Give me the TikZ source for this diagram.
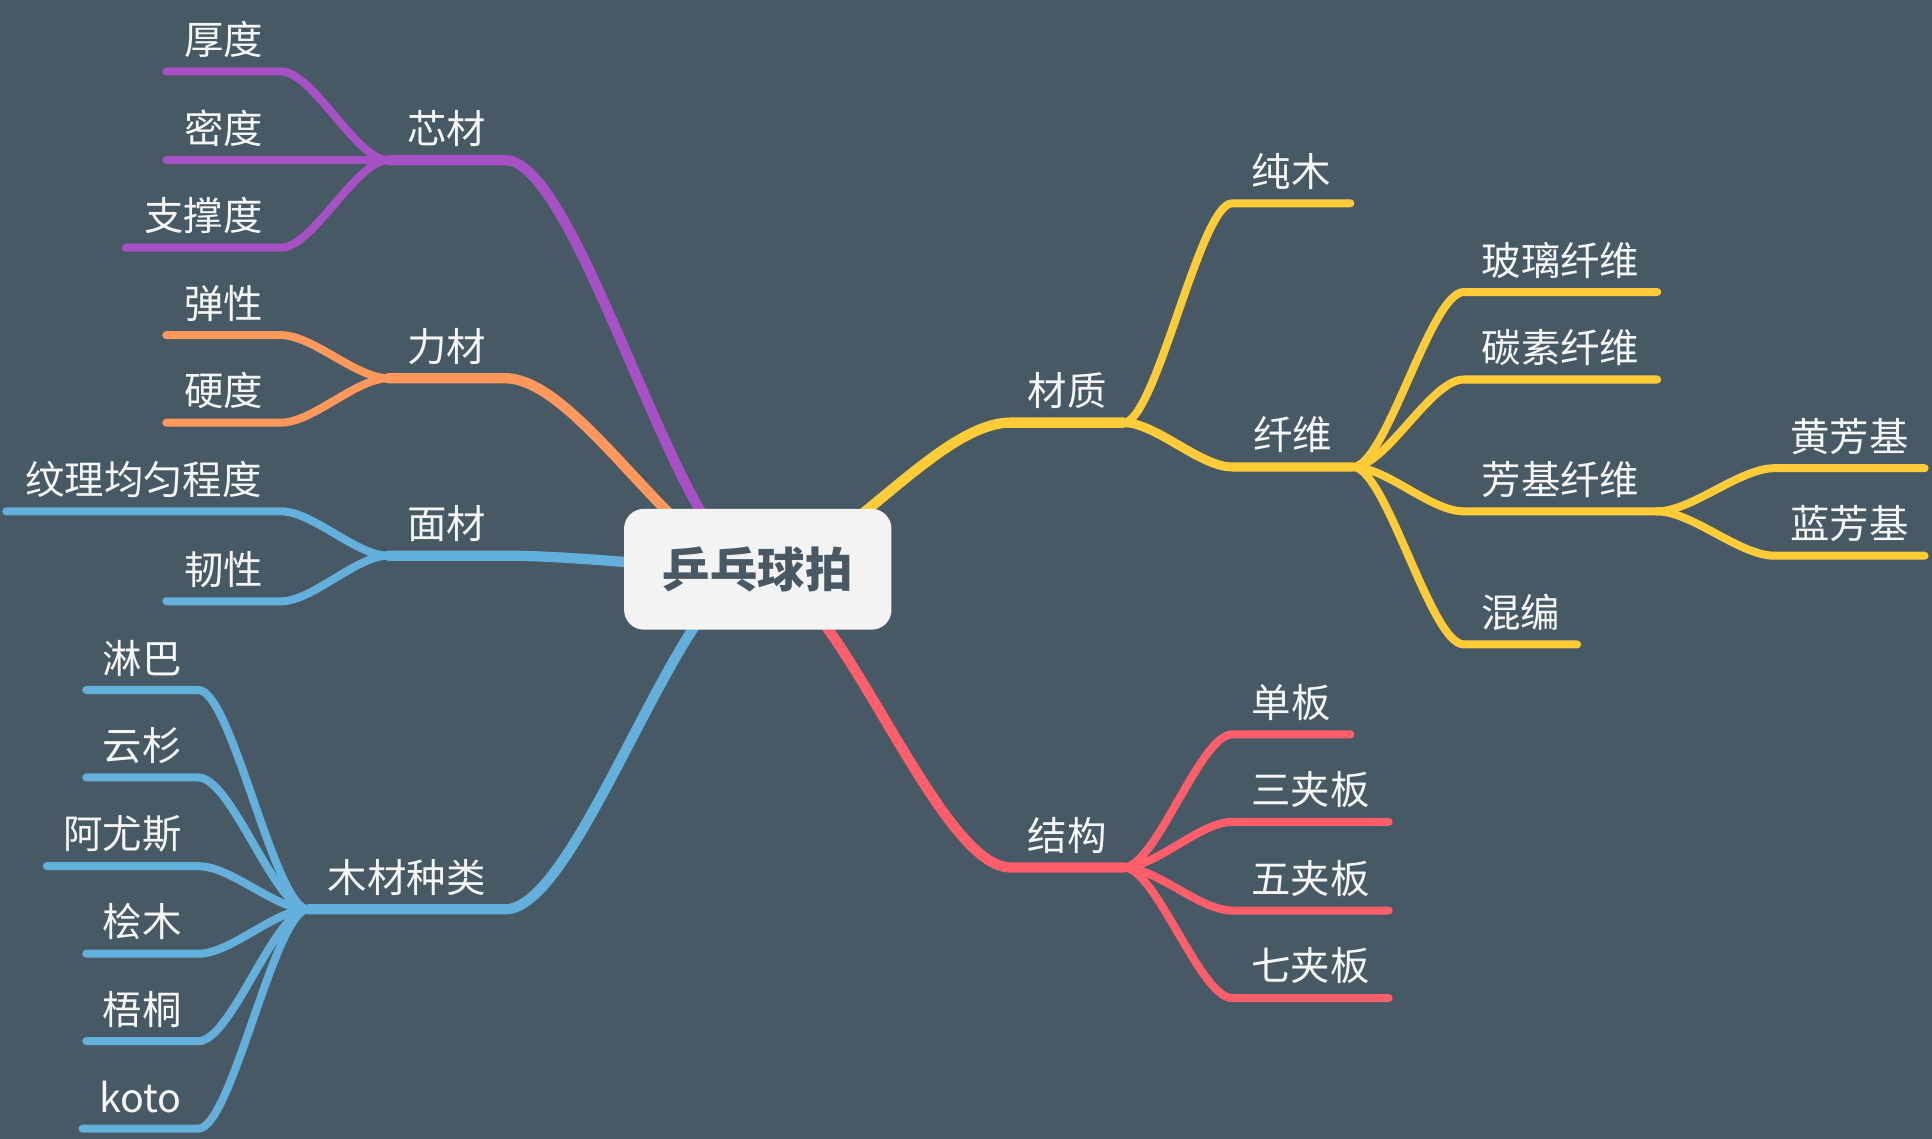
\documentclass[tikz,border=0pt]{standalone}
\usepackage{fontspec}
\setmainfont{Noto Sans CJK SC}
\newfontfamily\cjk{Noto Sans CJK SC}
\definecolor{bgc}{RGB}{71,89,101}
\definecolor{cpur}{RGB}{168,80,198}
\definecolor{cora}{RGB}{255,152,90}
\definecolor{cblu}{RGB}{100,176,220}
\definecolor{cyel}{RGB}{255,204,55}
\definecolor{cred}{RGB}{255,94,106}
\definecolor{ctxt}{RGB}{245,245,245}
\definecolor{croot}{RGB}{243,243,243}
\definecolor{crtxt}{RGB}{72,88,100}
\tikzset{
  lbl/.style={inner sep=0pt, text=ctxt, font=\cjk\fontsize{19.2pt}{22pt}\selectfont},
  mainln/.style={line width=5pt, line cap=round, line join=round},
  midln/.style={line width=4.4pt, line cap=round, line join=round},
  leafln/.style={line width=3.9pt, line cap=round, line join=round},
  rootbox/.style={fill=croot, rounded corners=9.6pt, minimum width=130.2pt, minimum height=58.8pt, inner sep=0pt, text=crtxt, font=\cjk\bfseries\fontsize{23.1pt}{26pt}\selectfont}
}
\begin{document}
\begin{tikzpicture}[x=0.6pt,y=-0.6pt]
\fill[bgc] (0,0) rectangle (1568,924);
\useasboundingbox (0,0) rectangle (1568,924);
\coordinate (rootc) at (615,462);
% ---------- left: coordinates ----------
\coordinate (xincaiJ) at (315,130); \coordinate (xincaiR) at (410,130);
\coordinate (houduL) at (135,58);   \coordinate (houduR) at (228,58);
\coordinate (miduL) at (135,130);   \coordinate (miduR) at (228,130);
\coordinate (zhiL) at (102,201);    \coordinate (zhiR) at (228,201);
\coordinate (licaiJ) at (315,307);  \coordinate (licaiR) at (410,307);
\coordinate (tanL) at (135,272);    \coordinate (tanR) at (228,272);
\coordinate (yingL) at (135,343);   \coordinate (yingR) at (228,343);
\coordinate (mianJ) at (315,451);   \coordinate (mianR) at (410,451);
\coordinate (wenL) at (5,415);      \coordinate (wenR) at (228,415);
\coordinate (renL) at (135,488);    \coordinate (renR) at (228,488);
\coordinate (mucaiJ) at (250,738);  \coordinate (mucaiR) at (410,738);
\coordinate (linL) at (70,560);     \coordinate (linR) at (161,560);
\coordinate (yunL) at (70,631);     \coordinate (yunR) at (161,631);
\coordinate (ayL) at (38,703);      \coordinate (ayR) at (161,703);
\coordinate (huiL) at (70,774);     \coordinate (huiR) at (161,774);
\coordinate (wuL) at (70,845);      \coordinate (wuR) at (161,845);
\coordinate (kotoL) at (67,916);    \coordinate (kotoR) at (161,916);
% ---------- right: coordinates ----------
\coordinate (caizhiL) at (820,343); \coordinate (caizhiJ) at (912,343);
\coordinate (chunL) at (1000,165);  \coordinate (chunR) at (1096,165);
\coordinate (xwL) at (1000,379);    \coordinate (xwJ) at (1098,379);
\coordinate (boL) at (1188,237);    \coordinate (boR) at (1345,237);
\coordinate (taL) at (1188,308);    \coordinate (taR) at (1345,308);
\coordinate (faL) at (1188,415);    \coordinate (faJ) at (1345,415);
\coordinate (hunL) at (1188,523);   \coordinate (hunR) at (1280,523);
\coordinate (huangL) at (1440,380); \coordinate (huangR) at (1562,380);
\coordinate (lanL) at (1440,451);   \coordinate (lanR) at (1562,451);
\coordinate (jiegouL) at (820,704); \coordinate (jiegouJ) at (912,704);
\coordinate (danL) at (1000,596);   \coordinate (danR) at (1096,596);
\coordinate (sanL) at (1000,667);   \coordinate (sanR) at (1127,667);
\coordinate (wujL) at (1000,739);   \coordinate (wujR) at (1127,739);
\coordinate (qiL) at (1000,810);    \coordinate (qiR) at (1127,810);
% ---------- purple ----------
\draw[cpur,mainln] (rootc) .. controls +(-61,0) and +(61,0) .. (xincaiR) -- (xincaiJ);
\draw[cpur,leafln] (xincaiJ) .. controls +(-26,0) and +(26,0) .. (houduR) -- (houduL);
\draw[cpur,leafln] (xincaiJ) -- (miduR) -- (miduL);
\draw[cpur,leafln] (xincaiJ) .. controls +(-26,0) and +(26,0) .. (zhiR) -- (zhiL);
% ---------- orange ----------
\draw[cora,mainln] (rootc) .. controls +(-61,0) and +(61,0) .. (licaiR) -- (licaiJ);
\draw[cora,leafln] (licaiJ) .. controls +(-26,0) and +(26,0) .. (tanR) -- (tanL);
\draw[cora,leafln] (licaiJ) .. controls +(-26,0) and +(26,0) .. (yingR) -- (yingL);
% ---------- blue ----------
\draw[cblu,mainln] (rootc) .. controls +(-61,0) and +(61,0) .. (mianR) -- (mianJ);
\draw[cblu,leafln] (mianJ) .. controls +(-26,0) and +(26,0) .. (wenR) -- (wenL);
\draw[cblu,leafln] (mianJ) .. controls +(-26,0) and +(26,0) .. (renR) -- (renL);
\draw[cblu,mainln] (rootc) .. controls +(-61,0) and +(61,0) .. (mucaiR) -- (mucaiJ);
\foreach \n in {lin,yun,ay,hui,wu,koto}
  \draw[cblu,leafln] (mucaiJ) .. controls +(-27,0) and +(27,0) .. (\n R) -- (\n L);
% ---------- yellow ----------
\draw[cyel,mainln] (rootc) .. controls +(61,0) and +(-61,0) .. (caizhiL) -- (caizhiJ);
\draw[cyel,leafln] (caizhiJ) .. controls +(26,0) and +(-26,0) .. (chunL) -- (chunR);
\draw[cyel,midln] (caizhiJ) .. controls +(26,0) and +(-26,0) .. (xwL) -- (xwJ);
\draw[cyel,leafln] (xwJ) .. controls +(27,0) and +(-27,0) .. (boL) -- (boR);
\draw[cyel,leafln] (xwJ) .. controls +(27,0) and +(-27,0) .. (taL) -- (taR);
\draw[cyel,leafln] (xwJ) .. controls +(27,0) and +(-27,0) .. (faL) -- (faJ);
\draw[cyel,leafln] (xwJ) .. controls +(27,0) and +(-27,0) .. (hunL) -- (hunR);
\draw[cyel,leafln] (faJ) .. controls +(28,0) and +(-28,0) .. (huangL) -- (huangR);
\draw[cyel,leafln] (faJ) .. controls +(28,0) and +(-28,0) .. (lanL) -- (lanR);
% ---------- red ----------
\draw[cred,mainln] (rootc) .. controls +(61,0) and +(-61,0) .. (jiegouL) -- (jiegouJ);
\draw[cred,leafln] (jiegouJ) .. controls +(26,0) and +(-26,0) .. (danL) -- (danR);
\draw[cred,leafln] (jiegouJ) .. controls +(26,0) and +(-26,0) .. (sanL) -- (sanR);
\draw[cred,leafln] (jiegouJ) .. controls +(26,0) and +(-26,0) .. (wujL) -- (wujR);
\draw[cred,leafln] (jiegouJ) .. controls +(26,0) and +(-26,0) .. (qiL) -- (qiR);
% ---------- root ----------
\node[rootbox] (root) at (rootc) {乒乓球拍};
% ---------- labels ----------
\node[lbl] (xincai) at (362.5,104) {芯材};
\node[lbl] (houdu) at (181.5,32) {厚度};
\node[lbl] (midu) at (181.5,104) {密度};
\node[lbl] (zhicheng) at (165,175) {支撑度};
\node[lbl] (licai) at (362.5,281) {力材};
\node[lbl] (tanxing) at (181.5,246) {弹性};
\node[lbl] (yingdu) at (181.5,317) {硬度};
\node[lbl] (miancai) at (362.5,425) {面材};
\node[lbl] (wenli) at (116.5,389) {纹理均匀程度};
\node[lbl] (renxing) at (181.5,462) {韧性};
\node[lbl] (mucai) at (330,712) {木材种类};
\node[lbl] (linba) at (115.5,534) {淋巴};
\node[lbl] (yunshan) at (115.5,605) {云杉};
\node[lbl] (ayousi) at (99.5,677) {阿尤斯};
\node[lbl] (huimu) at (115.5,748) {桧木};
\node[lbl] (wutong) at (115.5,819) {梧桐};
\node[lbl] (koto) at (114,890) {koto};
\node[lbl] (caizhi) at (866,317) {材质};
\node[lbl] (chunmu) at (1048,139) {纯木};
\node[lbl] (xianwei) at (1049,353) {纤维};
\node[lbl] (boli) at (1266.5,211) {玻璃纤维};
\node[lbl] (tansu) at (1266.5,282) {碳素纤维};
\node[lbl] (fangji) at (1266.5,389) {芳基纤维};
\node[lbl] (hunbian) at (1234,497) {混编};
\node[lbl] (huang) at (1501,354) {黄芳基};
\node[lbl] (lan) at (1501,425) {蓝芳基};
\node[lbl] (jiegou) at (866,678) {结构};
\node[lbl] (danban) at (1048,570) {单板};
\node[lbl] (sanjia) at (1063.5,641) {三夹板};
\node[lbl] (wujia) at (1063.5,713) {五夹板};
\node[lbl] (qijia) at (1063.5,784) {七夹板};
\end{tikzpicture}
\end{document}
